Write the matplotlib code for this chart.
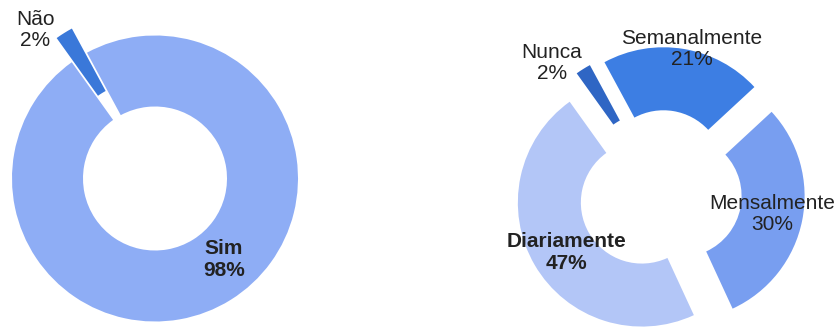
#!/usr/bin/env python3
"""Two exploded donut charts (Sim/Não and frequency)."""
import matplotlib
matplotlib.use('Agg')
import matplotlib.pyplot as plt

plt.rcParams['font.family'] = ['Liberation Sans', 'DejaVu Sans']

# ── Data ────────────────────────────────────────────────────────────
left_labels = ['Não', 'Sim']
left_values = [2, 98]

right_labels = ['Nunca', 'Semanalmente', 'Mensalmente', 'Diariamente']
right_values = [2, 21, 30, 47]

# ── Styles ──────────────────────────────────────────────────────────
left_colors = ['#3a78d9', '#8eadf5']
right_colors = ['#2f66c4', '#3d7ee3', '#789ef0', '#b3c6f7']
left_explode = [28.5, 0]
right_explode = [21, 21, 21, 21]
bold_labels = {'Sim', 'Diariamente'}

W, H = 836, 329
fig = plt.figure(figsize=(W / 100, H / 100), dpi=100)
ax = fig.add_axes([0, 0, 1, 1])   # one axes in pixel units

# left donut: centre (155, 178.5) px from top, outer radius 143
ax.pie(left_values, colors=left_colors, explode=left_explode,
       center=(155, H - 178.5), radius=143, startangle=125.6,
       counterclock=False, wedgeprops=dict(width=71, linewidth=0))

# right donut: centre (660, 192) px from top, outer radius 124
ax.pie(right_values, colors=right_colors, explode=right_explode,
       center=(660, H - 192), radius=124, startangle=125.6,
       counterclock=False, wedgeprops=dict(width=63, linewidth=0))

ax.set_xlim(0, W)
ax.set_ylim(0, H)
ax.set_aspect('equal')
ax.axis('off')

# label anchor points (pixels from top-left)
left_pos = [(35, 30), (224, 259.5)]
right_pos = [(552, 63), (692, 49), (772, 214), (566, 252.5)]

for labels, values, positions in [(left_labels, left_values, left_pos),
                                  (right_labels, right_values, right_pos)]:
    for lbl, val, (px, py) in zip(labels, values, positions):
        ax.text(px, H - py, f'{lbl}\n{val}%', ha='center', va='center',
                multialignment='center', fontsize=15, color='#222222',
                fontweight='bold' if lbl in bold_labels else 'normal',
                linespacing=1.15)

plt.savefig('out.png', dpi=100)
plt.close()
